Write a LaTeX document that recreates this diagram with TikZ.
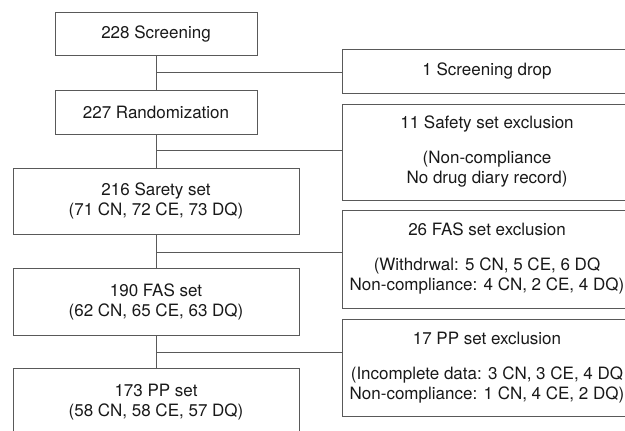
\documentclass[tikz,border=0pt]{standalone}
\usepackage{fontspec}
\setmainfont{TeX Gyre Heros}
\begin{document}
\begin{tikzpicture}[x=1pt,y=-1pt,
  box/.style={draw=black!65, line width=0.9pt, inner sep=0pt, align=center,
    font=\fontsize{17}{20}\selectfont, text=black!90},
  link/.style={draw=black!65, line width=0.9pt}]
\useasboundingbox (0,0) rectangle (625,431);
\clip (0,0) rectangle (625,431);
% main column
\node[box, minimum width=202pt, minimum height=43pt] (s1) at (156,34) {228 Screening};
\node[box, minimum width=202pt, minimum height=44pt] (s2) at (156,112) {227 Randomization};
\node[box, minimum width=286pt, minimum height=66pt] (s3) at (156,201) {216 Sarety set\\(71 CN, 72 CE, 73 DQ)};
\node[box, minimum width=286pt, minimum height=67pt] (s4) at (156,301.5) {190 FAS set\\(62 CN, 65 CE, 63 DQ)};
\node[box, minimum width=286pt, minimum height=68pt] (s5) at (156,402) {173 PP set\\(58 CN, 58 CE, 57 DQ)};
% exclusion column
\node[box, minimum width=290pt, minimum height=44pt] (d1) at (487,71) {1 Screening drop};
\node[box, minimum width=290pt, minimum height=96pt] (d2) at (487,152) {11 Safety set exclusion\\[15pt](Non-compliance\\No drug diary record)};
\node[box, minimum width=290pt, minimum height=98pt] (d3) at (487,259) {26 FAS set exclusion\\[15pt](Withdrwal: 5 CN, 5 CE, 6 DQ\\Non-compliance: 4 CN, 2 CE, 4 DQ)};
\node[box, minimum width=290pt, minimum height=97pt] (d4) at (487,367.5) {17 PP set exclusion\\[15pt](Incomplete data: 3 CN, 3 CE, 4 DQ\\Non-compliance: 1 CN, 4 CE, 2 DQ)};
% connectors
\draw[link] (s1.south) -- (s2.north);
\draw[link] (s2.south) -- (s3.north);
\draw[link] (s3.south) -- (s4.north);
\draw[link] (s4.south) -- (s5.north);
\coordinate (b1) at (156,72);
\coordinate (b2) at (156,150);
\coordinate (b3) at (156,252);
\coordinate (b4) at (156,352);
\draw[link] (b1) -- (d1.west |- b1);
\draw[link] (b2) -- (d2.west |- b2);
\draw[link] (b3) -- (d3.west |- b3);
\draw[link] (b4) -- (d4.west |- b4);
\end{tikzpicture}
\end{document}
